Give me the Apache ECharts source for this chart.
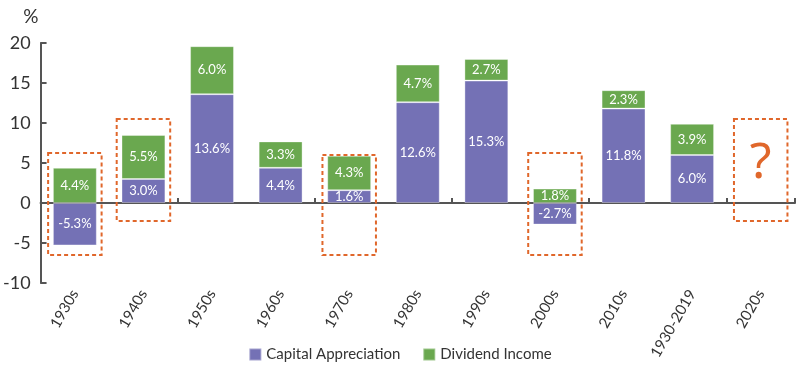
<!DOCTYPE html>
<html><head><meta charset="utf-8">
<script src="https://cdn.jsdelivr.net/npm/echarts@6/dist/echarts.min.js"></script>
<style>html,body{margin:0;padding:0;background:#fff}#c{width:800px;height:371px}</style>
</head><body><div id="c"></div>
<script>
const categories = ['1930s','1940s','1950s','1960s','1970s','1980s','1990s','2000s','2010s','1930-2019','2020s'];
const capitalAppreciation = [-5.3, 3.0, 13.6, 4.4, 1.6, 12.6, 15.3, -2.7, 11.8, 6.0, null];
const dividendIncome = [4.4, 5.5, 6.0, 3.3, 4.3, 4.7, 2.7, 1.8, 2.3, 3.9, null];
const yTicks = [-10, -5, 0, 5, 10, 15, 20];
const boxCategories = ['1930s','1940s','1970s','2000s','2020s'];
const boxTop = [6.25, 10.5, 6.0, 6.25, 10.5];
const boxBottom = [-6.5, -2.25, -6.5, -6.5, -2.25];
const boxText = ['', '', '', '', '?'];

const FONT = 'Lato, "Noto Sans", sans-serif';
const ORANGE = '#e0672b';
const chart = echarts.init(document.getElementById('c'), null, {renderer: 'canvas'});

const boxData = boxCategories.map((c, i) => [categories.indexOf(c), boxTop[i], boxBottom[i], boxText[i]]);

chart.setOption({
  animation: false,
  textStyle: {fontFamily: FONT},
  grid: {left: 37, right: 5, top: 43, bottom: 88, containLabel: false},
  legend: {
    bottom: 4, left: 'center', itemWidth: 12, itemHeight: 12, itemGap: 22, icon: 'rect',
    textStyle: {fontSize: 15, color: '#333', fontFamily: FONT},
    data: ['Capital Appreciation', 'Dividend Income']
  },
  xAxis: [{
    type: 'category', data: categories,
    axisLine: {onZero: true, lineStyle: {color: '#555', width: 2}},
    axisTick: {show: true, inside: true, length: 5, lineStyle: {color: '#555', width: 2}},
    axisLabel: {show: false}
  }, {
    type: 'category', data: categories, position: 'bottom',
    axisLine: {show: false, onZero: false}, axisTick: {show: false},
    axisLabel: {rotate: 60, fontSize: 15, color: '#333', margin: 8, fontFamily: FONT}
  }],
  yAxis: {
    type: 'value', min: yTicks[0], max: yTicks[yTicks.length - 1], interval: 5,
    name: '%', nameLocation: 'end', nameGap: 17,
    nameTextStyle: {fontSize: 19, color: '#333', align: 'right', padding: [0, 2, 0, 0], fontFamily: FONT},
    axisLine: {show: true, lineStyle: {color: '#555', width: 2}},
    axisTick: {show: true, inside: true, length: 6, lineStyle: {color: '#555', width: 2}},
    axisLabel: {fontSize: 18, color: '#333', margin: 10, fontFamily: FONT},
    splitLine: {show: false}
  },
  series: [{
    name: 'Capital Appreciation', type: 'bar', stack: 'total', xAxisIndex: 0,
    data: capitalAppreciation, barWidth: '64%',
    itemStyle: {color: '#7471b5', borderColor: 'rgba(255,255,255,0.35)', borderWidth: 1},
    label: {show: true, position: 'inside', color: '#fff', fontSize: 13, fontFamily: FONT,
      formatter: p => p.value.toFixed(1) + '%'}
  }, {
    name: 'Dividend Income', type: 'bar', stack: 'total', xAxisIndex: 0,
    data: dividendIncome, barWidth: '64%',
    itemStyle: {color: '#6aa84f', borderColor: 'rgba(255,255,255,0.35)', borderWidth: 1},
    label: {show: true, position: 'inside', color: '#fff', fontSize: 13, fontFamily: FONT,
      formatter: p => p.value.toFixed(1) + '%'}
  }, {
    type: 'custom', xAxisIndex: 0, silent: true, clip: false, z: 10,
    data: boxData,
    encode: {x: 0, y: [1, 2]},
    renderItem: function (params, api) {
      const top = api.coord([api.value(0), api.value(1)]);
      const bot = api.coord([api.value(0), api.value(2)]);
      const w = api.size([1, 0])[0] * 0.78;
      const children = [{
        type: 'rect',
        shape: {x: top[0] - w / 2, y: top[1], width: w, height: bot[1] - top[1]},
        style: {fill: 'none', stroke: ORANGE, lineWidth: 2, lineDash: [4, 3]}
      }];
      const t = api.value(3);
      if (t) {
        children.push({
          type: 'text',
          style: {text: t, x: top[0], y: (top[1] + bot[1]) / 2 - 6, align: 'center', verticalAlign: 'middle',
            fill: ORANGE, fontSize: 50, fontFamily: '"Liberation Sans Narrow", "Noto Sans", sans-serif'}
        });
      }
      return {type: 'group', children: children};
    }
  }]
});
</script></body></html>
